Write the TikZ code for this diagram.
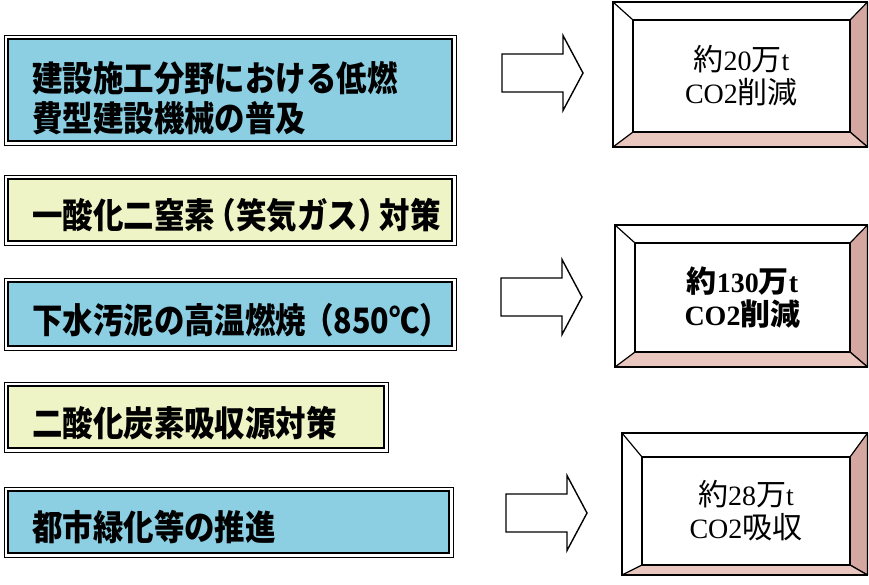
\documentclass[tikz,border=0pt]{standalone}
\usepackage{fontspec}
\setmainfont{Liberation Serif}
\newfontfamily\jp{Noto Sans CJK JP}
\newfontfamily\jpt{Noto Sans CJK JP}[FakeStretch=0.87]
\newcommand\cjk[1]{{\jp\fontsize{30}{33}\selectfont #1}}
\definecolor{boxblue}{HTML}{8CCFE3}
\definecolor{boxyellow}{HTML}{EEF4C6}
\definecolor{bevelright}{HTML}{D4A8A0}
\definecolor{bevelbottom}{HTML}{E9C6BE}
\begin{document}
\begin{tikzpicture}[x=1pt,y=-1pt,
  lbox/.style={draw, line width=2.4pt, anchor=north west, outer sep=0pt, inner sep=0pt},
  bluebox/.style={lbox, fill=boxblue},
  yellowbox/.style={lbox, fill=boxyellow},
  ltext/.style={anchor=west, inner sep=0pt, align=left,
    font=\jpt\bfseries\fontsize{35}{40}\selectfont},
  thinframe/.style={line width=0.9pt},
  outerbox/.style={draw, fill=white, line width=1.2pt, anchor=north west,
    outer sep=0pt, inner sep=0pt},
  innerbox/.style={draw, fill=white, line width=1.2pt, anchor=north west,
    outer sep=0pt, inner sep=0pt, align=center,
    font=\fontsize{28}{33}\selectfont},
  bevelline/.style={line width=1.2pt, line join=round},
  blockarrow/.pic={\draw[line width=1.4pt, line join=miter]
    (0,-19) -- (61,-19) -- (61,-37.5) -- (81,0) -- (61,37.5) -- (61,19) -- (0,19) -- cycle;}
]
\useasboundingbox (0,0) rectangle (869,584);

% left boxes
\node[bluebox, minimum width=444pt, minimum height=102pt] (b1) at (8,39) {};
\node[yellowbox, minimum width=444pt, minimum height=62pt] (b2) at (8,179) {};
\node[bluebox, minimum width=444pt, minimum height=64pt] (b3) at (8,282) {};
\node[yellowbox, minimum width=376pt, minimum height=62pt] (b4) at (8,386) {};
\node[bluebox, minimum width=441pt, minimum height=62pt] (b5) at (8,491) {};
\foreach \n in {b1,b2,b3,b4,b5}
  \draw[thinframe] ([xshift=-4pt,yshift=4pt]\n.north west) rectangle ([xshift=4pt,yshift=-4pt]\n.south east);

\node[ltext] (t1) at ([xshift=24pt,yshift=-8pt]b1.west)
  {建設施工分野における低燃\\費型建設機械の普及};
\node[ltext] (t2) at ([xshift=24pt,yshift=-5pt]b2.west)
  {一酸化二窒素\kern-9pt（笑気ガス）\kern-9pt対策};
\node[ltext] (t3) at ([xshift=24pt,yshift=-6pt]b3.west)
  {下水汚泥の高温燃焼\kern-3pt（850℃）};
\node[ltext] (t4) at ([xshift=24pt,yshift=-6pt]b4.west)
  {二酸化炭素吸収源対策};
\node[ltext] (t5) at ([xshift=24pt,yshift=-5pt]b5.west)
  {都市緑化等の推進};

% right bevel boxes
\node[outerbox, minimum width=254.5pt, minimum height=145pt] (ro1) at (613,2) {};
\node[innerbox, minimum width=217pt, minimum height=112pt] (r1) at (633,20)
  {\cjk{約}20\cjk{万}t\\CO2\cjk{削減}};
\node[outerbox, minimum width=252.5pt, minimum height=142pt] (ro2) at (615,225) {};
\node[innerbox, minimum width=215pt, minimum height=109pt,
  font=\bfseries\fontsize{28}{33}\selectfont] (r2) at (635,243)
  {\cjk{約}130\cjk{万}t\\CO2\cjk{削減}};
\node[outerbox, minimum width=245.5pt, minimum height=142pt] (ro3) at (622,433) {};
\node[innerbox, minimum width=208pt, minimum height=108pt] (r3) at (642,457)
  {\cjk{約}28\cjk{万}t\\CO2\cjk{吸収}};
\foreach \i in {1,2,3}{
  \filldraw[bevelline, fill=bevelright] (ro\i.north east) -- (ro\i.south east) -- (r\i.south east) -- (r\i.north east) -- cycle;
  \filldraw[bevelline, fill=bevelbottom] (ro\i.south west) -- (ro\i.south east) -- (r\i.south east) -- (r\i.south west) -- cycle;
  \draw[bevelline] (ro\i.north west) -- (r\i.north west);
  \draw[bevelline] (ro\i.north west) rectangle (ro\i.south east);
  \draw[bevelline] (r\i.north west) rectangle (r\i.south east);
}

% block arrows
\pic at (502,73) {blockarrow};
\pic at (501,297) {blockarrow};
\pic at (506,513) {blockarrow};
\end{tikzpicture}
\end{document}
